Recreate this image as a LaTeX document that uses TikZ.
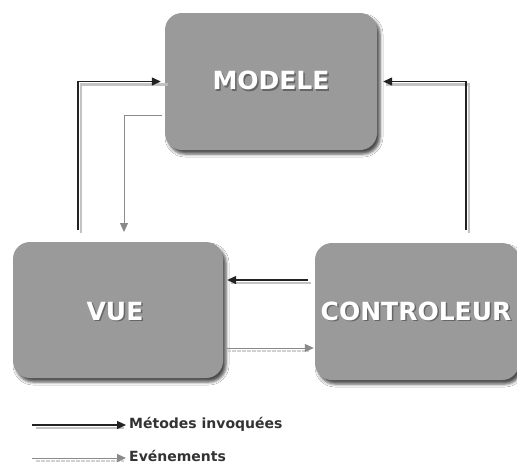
\documentclass[tikz,border=0pt]{standalone}
\usepackage{fontspec}
\setmainfont{DejaVu Sans}
\usetikzlibrary{arrows.meta,shadows.blur}

\definecolor{boxgray}{HTML}{9A9A9A}
\definecolor{linedark}{HTML}{222222}
\definecolor{lineevt}{HTML}{8A8A8A}
\definecolor{shadeline}{HTML}{BDBDBD}
\definecolor{legendtext}{HTML}{333333}
\definecolor{titleshade}{HTML}{666666}

% white title with a dark shadow set just below and to the right
\newcommand\shadedtitle[1]{%
  \makebox[0pt][l]{\hspace{1.5pt}\raisebox{-1.5pt}{\textcolor{titleshade}{#1}}}#1}

\begin{document}
\begin{tikzpicture}[x=1pt,y=-1pt,
  box/.style={fill=boxgray, rounded corners=17pt, inner sep=0pt,
    blur shadow={shadow xshift=3pt, shadow yshift=-4pt, shadow blur radius=3pt, shadow opacity=70}},
  boxlabel/.style={text=white, font=\bfseries\fontsize{25}{25}\selectfont, inner sep=0pt},
  tip/.style={-{Triangle[length=9pt,width=8pt]}},
  meth/.style={tip, draw=linedark, line width=1.3pt},
  methshade/.style={draw=shadeline, line width=2.2pt, opacity=.9},
  evt/.style={tip, draw=lineevt, line width=1pt},
  evtshade/.style={draw=shadeline!70, line width=2pt, dash pattern=on 4pt off 1pt},
  legendlabel/.style={anchor=west, text=legendtext, font=\bfseries\fontsize{14}{14}\selectfont, inner sep=0pt}
]
% canvas
\fill[white] (0,0) rectangle (517,469);
\useasboundingbox (0,0) rectangle (517,469);

% the three components
\node[box, minimum width=212pt, minimum height=137pt] (modele) at (271,81.5) {};
\node[box, minimum width=210pt, minimum height=136pt] (vue) at (118,310) {};
\node[box, minimum width=204pt, minimum height=137pt] (ctrl) at (417,311.5) {};

% box titles
\node[boxlabel] (tmodele) at (modele.center) {\shadedtitle{MODELE}};
\node[boxlabel] (tvue) at (115,312) {\shadedtitle{VUE}};
\node[boxlabel] (tctrl) at (416,312) {\shadedtitle{CONTROLEUR}};

% connector end points
\coordinate (vueup)   at (78,230);
\coordinate (vuein)   at (124,232);
\coordinate (modout)  at (162,115);
\coordinate (ctrlup)  at (466,230);
\coordinate (ctrlout) at (308,280);
\coordinate (vueout)  at (227,348);

% shadows under the connectors
\draw[methshade] ([shift={(3pt,-3pt)}]vueup) |- ([shift={(3pt,-3pt)}]modele.west);
\draw[methshade] ([shift={(3pt,-3pt)}]ctrlup) |- ([shift={(9pt,-3pt)}]modele.east);
\draw[methshade] ([shift={(3pt,-3pt)}]ctrlout) -- ([shift={(8pt,-3pt)}]vue.east |- ctrlout);
\draw[evtshade] ([shift={(0pt,-3pt)}]vueout) -- ([shift={(-6pt,-3pt)}]ctrl.west |- vueout);

% connectors
\draw[meth, shorten >=4pt] (vueup) |- (modele.west);
\draw[evt] (modout) -| (vuein);
\draw[meth, shorten >=6pt] (ctrlup) |- (modele.east);
\draw[meth, shorten >=4pt] (ctrlout) -- (vue.east |- ctrlout);
\draw[evt, shorten >=1pt] (vueout) -- (ctrl.west |- vueout);

% legend
\coordinate (l1a) at (32,425);
\coordinate (l1b) at (126,425);
\coordinate (l2a) at (32,458);
\coordinate (l2b) at (126,458);
\draw[methshade] ([shift={(4pt,-3pt)}]l1a) -- ([shift={(-2pt,-3pt)}]l1b);
\draw[meth] (l1a) -- (l1b);
\node[legendlabel] (lmeth) at (129,424) {Métodes invoquées};
\draw[evtshade] ([shift={(4pt,-3pt)}]l2a) -- ([shift={(-2pt,-3pt)}]l2b);
\draw[evt] (l2a) -- (l2b);
\node[legendlabel] (levt) at (129,456) {Evénements};
\end{tikzpicture}
\end{document}
